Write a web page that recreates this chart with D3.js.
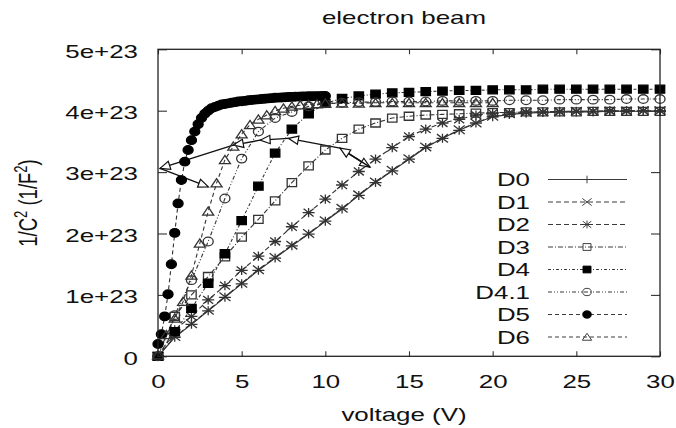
<!DOCTYPE html>
<html>
<head>
<meta charset="utf-8">
<script src="https://cdn.jsdelivr.net/npm/d3@7"></script>
<style>
  html, body { margin: 0; padding: 0; background: #fff; }
  svg { display: block; }
  text { font-family: "Liberation Sans", Arial, Helvetica, sans-serif; fill: #111; }
</style>
</head>
<body>
<svg id="chart" width="676" height="428"></svg>
<script>
// ---------------- data (y values in units of 1e23 F^-2) ----------------
const titleText = "electron beam";
const xLabelText = "voltage (V)";
const xTicks = [0, 5, 10, 15, 20, 25, 30];
const xTickLabels = ["0", "5", "10", "15", "20", "25", "30"];
const yTicks = [0, 1, 2, 3, 4, 5];
const yTickLabels = ["0", "1e+23", "2e+23", "3e+23", "4e+23", "5e+23"];

const seriesNames = ["D0", "D1", "D2", "D3", "D4", "D4.1", "D5", "D6"];

const vStep1 = [0,1,2,3,4,5,6,7,8,9,10,11,12,13,14,15,16,17,18,19,20,21,22,23,24,25,26,27,28,29,30];
const vD5 = [0,0.2,0.4,0.6,0.8,1,1.2,1.4,1.6,1.8,2,2.2,2.4,2.6,2.8,3,3.2,3.4,3.6,3.8,4,4.2,4.4,4.6,4.8,5,
             5.2,5.4,5.6,5.8,6,6.2,6.4,6.6,6.8,7,7.2,7.4,7.6,7.8,8,8.2,8.4,8.6,8.8,9,9.2,9.4,9.6,9.8,10];
const vD6 = [0,0.5,1,1.5,2,2.5,3,3.5,4,4.5,5,5.5,6,6.5,7,7.5,8,8.5,9,9.5,10,11,12,13,14,15,16,17,18,19,20];

const yD0 = [0,0.31,0.52,0.74,0.96,1.18,1.40,1.60,1.80,1.99,2.20,2.40,2.62,2.83,3.02,3.21,3.40,3.55,3.68,3.80,3.90,3.94,3.96,3.97,3.98,3.98,3.98,3.99,3.99,3.99,3.99];
const yD1 = [0,0.32,0.53,0.75,0.97,1.19,1.41,1.61,1.81,2.00,2.21,2.41,2.63,2.84,3.03,3.22,3.41,3.55,3.69,3.80,3.91,3.95,3.97,3.98,3.98,3.99,3.99,3.99,3.99,4.00,4.00];
const yD2 = [0,0.43,0.65,0.92,1.15,1.40,1.63,1.87,2.11,2.34,2.56,2.79,3.01,3.21,3.40,3.58,3.70,3.80,3.86,3.93,3.96,3.97,3.98,3.98,3.99,3.99,3.99,4.00,4.00,4.00,4.00];
const yD3 = [0,0.65,1.00,1.30,1.62,1.94,2.23,2.53,2.83,3.10,3.36,3.55,3.70,3.80,3.88,3.91,3.93,3.94,3.95,3.96,3.97,3.97,3.98,3.98,3.98,3.98,3.99,3.99,3.99,3.99,3.99];
const yD4 = [0,0.40,0.78,1.19,1.67,2.21,2.77,3.31,3.70,3.95,4.12,4.20,4.24,4.27,4.29,4.30,4.31,4.32,4.33,4.33,4.34,4.34,4.34,4.35,4.35,4.35,4.35,4.35,4.35,4.35,4.35];
const yD41 = [0,0.67,1.24,1.87,2.57,3.22,3.66,3.88,3.98,4.07,4.12,4.13,4.14,4.14,4.15,4.15,4.15,4.16,4.16,4.16,4.16,4.17,4.17,4.17,4.18,4.18,4.18,4.18,4.19,4.19,4.19];
const yD5 = [0.20,0.36,0.65,1.01,1.50,2.01,2.49,2.87,3.17,3.36,3.52,3.66,3.78,3.88,3.95,4.00,4.04,4.06,4.08,4.10,
             4.11,4.12,4.13,4.14,4.15,4.155,4.16,4.17,4.175,4.18,4.185,4.19,4.195,4.20,4.205,4.21,4.213,4.216,4.22,4.222,
             4.225,4.227,4.23,4.232,4.234,4.235,4.236,4.237,4.238,4.239,4.24];
const yD6 = [0.02,0.35,0.62,0.89,1.32,1.84,2.36,2.82,3.20,3.42,3.62,3.77,3.86,3.93,4.00,4.04,4.07,4.09,4.10,4.11,4.12,4.12,4.12,4.13,4.13,4.13,4.13,4.13,4.13,4.13,4.13];

// annotation arrows: from (V, y) to (V, y)
const arrowFromV = [10.88, 12.67, 10.88, 7.79, 6.10, 4.50, 0.12];
const arrowFromY = [3.39, 3.08, 3.39, 3.55, 3.52, 3.44, 3.06];
const arrowToV   = [12.67, 10.88, 7.79, 6.10, 4.50, 0.12, 3.01];
const arrowToY   = [3.08, 3.39, 3.55, 3.52, 3.44, 3.06, 2.76];

// ---------------- styling ----------------
const SX = 1.4;              // horizontal stretch of the original figure
const FS = 18.5;
const styles = {
  "D0":   {marker: "plus",     fill: "none", dash: null},
  "D1":   {marker: "cross",    fill: "none", dash: "5,3"},
  "D2":   {marker: "star",     fill: "none", dash: "5,3"},
  "D3":   {marker: "square",   fill: "none", dash: "5,2,1,2"},
  "D4":   {marker: "square",   fill: "#000", dash: "3,2,1,2"},
  "D4.1": {marker: "circle",   fill: "none", dash: "4,2,1,2,1,2"},
  "D5":   {marker: "circle",   fill: "#000", dash: "4,3"},
  "D6":   {marker: "triangle", fill: "none", dash: "4,3"}
};
const seriesData = [
  [vStep1, yD0], [vStep1, yD1], [vStep1, yD2], [vStep1, yD3],
  [vStep1, yD4], [vStep1, yD41], [vD5, yD5], [vD6, yD6]
];

function markerPath(type) {
  switch (type) {
    case "plus": return "M-6,0H6M0,-4.5V4.5";
    case "cross": return "M-5.5,-4.2L5.5,4.2M-5.5,4.2L5.5,-4.2";
    case "star": return "M-6,0H6M0,-4.6V4.6M-5,-3.9L5,3.9M-5,3.9L5,-3.9";
    case "square": return "M-4.7,-4H4.7V4H-4.7Z";
    case "circle": { const rx = 5, ry = 4.3;
      return `M${-rx},0A${rx},${ry} 0 1,0 ${rx},0A${rx},${ry} 0 1,0 ${-rx},0Z`; }
    case "triangle": return "M-5.5,3.8H5.5L0,-4.4Z";
  }
}

// ---------------- layout ----------------
const svg = d3.select("#chart");
svg.append("rect").attr("width", 676).attr("height", 428).attr("fill", "#fff");
const plotL = 158, plotR = 660, plotT = 49.3, plotB = 356.3;
const x = d3.scaleLinear().domain([0, 30]).range([plotL, plotR]);
const y = d3.scaleLinear().domain([0, 5]).range([plotB, plotT]);

// axes (ticks inward on all four sides)
const gB = svg.append("g").attr("transform", `translate(0,${plotB})`)
  .call(d3.axisBottom(x).tickValues(xTicks).tickSize(-5).tickFormat((d, i) => xTickLabels[i]));
gB.selectAll("text").attr("y", null).attr("dy", null)
  .attr("transform", `translate(0,31.5) scale(${SX},1)`).style("font-size", FS + "px");
const gT = svg.append("g").attr("transform", `translate(0,${plotT})`)
  .call(d3.axisTop(x).tickValues(xTicks).tickSize(-5).tickFormat(""));
const gL = svg.append("g").attr("transform", `translate(${plotL},0)`)
  .call(d3.axisLeft(y).tickValues(yTicks).tickSize(-9).tickFormat((d, i) => yTickLabels[i]));
gL.selectAll("text").attr("x", null).attr("dy", null)
  .attr("transform", `translate(-20,7.8) scale(${SX},1)`).attr("text-anchor", "end").style("font-size", FS + "px");
const gR = svg.append("g").attr("transform", `translate(${plotR},0)`)
  .call(d3.axisRight(y).tickValues(yTicks).tickSize(-9).tickFormat(""));
[gB, gT, gL, gR].forEach(g => {
  g.select(".domain").remove();
  g.selectAll(".tick line").attr("stroke", "#333").attr("stroke-width", 1.1);
  g.attr("font-family", null).attr("font-size", null);
});

// series lines
const line = d3.line().x(d => x(d[0])).y(d => y(d[1]));
seriesNames.forEach((name, i) => {
  const [vs, ys] = seriesData[i];
  const pts = vs.map((v, k) => [v, ys[k]]);
  svg.append("path").datum(pts).attr("d", line)
    .attr("fill", "none").attr("stroke", "#333").attr("stroke-width", 1.1)
    .attr("stroke-dasharray", styles[name].dash);
});

// arrows
arrowFromV.forEach((fv, i) => {
  const x1 = x(fv), y1 = y(arrowFromY[i]), x2 = x(arrowToV[i]), y2 = y(arrowToY[i]);
  svg.append("line").attr("x1", x1).attr("y1", y1).attr("x2", x2).attr("y2", y2)
    .attr("stroke", "#111").attr("stroke-width", 1.4);
  const a = Math.atan2(y2 - y1, x2 - x1), L = 10, Wd = 4.2;
  const bx = x2 - L * Math.cos(a), by = y2 - L * Math.sin(a);
  const px = -Math.sin(a) * Wd, py = Math.cos(a) * Wd;
  svg.append("path")
    .attr("d", `M${x2},${y2}L${bx + px},${by + py}L${bx - px},${by - py}Z`)
    .attr("fill", "#fff").attr("stroke", "#111").attr("stroke-width", 1.2);
});

// markers
seriesNames.forEach((name, i) => {
  const [vs, ys] = seriesData[i];
  const st = styles[name];
  svg.append("g").selectAll("path").data(vs.map((v, k) => [v, ys[k]])).join("path")
    .attr("transform", d => `translate(${x(d[0])},${y(d[1])})`)
    .attr("d", markerPath(st.marker))
    .attr("fill", st.fill)
    .attr("stroke", st.fill === "none" ? "#333" : "#000")
    .attr("stroke-width", 1.3);
});

// border
svg.append("rect").attr("x", plotL).attr("y", plotT).attr("width", plotR - plotL).attr("height", plotB - plotT)
  .attr("fill", "none").attr("stroke", "#222").attr("stroke-width", 1.3);

// legend
const legY0 = 179.5, legDY = 22.5;
seriesNames.forEach((name, i) => {
  const ry = legY0 + i * legDY;
  const st = styles[name];
  svg.append("text").attr("transform", `translate(530,${ry + 6.6}) scale(${SX},1)`)
    .attr("text-anchor", "end").style("font-size", FS + "px").text(name);
  svg.append("line").attr("x1", 548).attr("x2", 627).attr("y1", ry).attr("y2", ry)
    .attr("stroke", "#3a3a3a").attr("stroke-width", 1).attr("stroke-dasharray", st.dash);
  svg.append("path").attr("transform", `translate(587,${ry}) scale(0.85)`).attr("d", markerPath(st.marker))
    .attr("fill", st.fill).attr("stroke", st.fill === "none" ? "#333" : "#000").attr("stroke-width", 1.1);
});

// titles
svg.append("text").attr("transform", `translate(404,24) scale(${SX},1)`)
  .attr("text-anchor", "middle").style("font-size", FS + "px").text(titleText);
svg.append("text").attr("transform", `translate(404,421) scale(${SX},1)`)
  .attr("text-anchor", "middle").style("font-size", FS + "px").text(xLabelText);
const yl = svg.append("text").attr("transform", `translate(37,203) scale(${SX},1) rotate(-90)`)
  .attr("text-anchor", "middle").style("font-size", FS + "px");
yl.append("tspan").text("1/C");
yl.append("tspan").attr("dy", -7).style("font-size", "13px").text("2");
yl.append("tspan").attr("dy", 7).text(" (1/F");
yl.append("tspan").attr("dy", -7).style("font-size", "13px").text("2");
yl.append("tspan").attr("dy", 7).text(")");
</script>
</body>
</html>
